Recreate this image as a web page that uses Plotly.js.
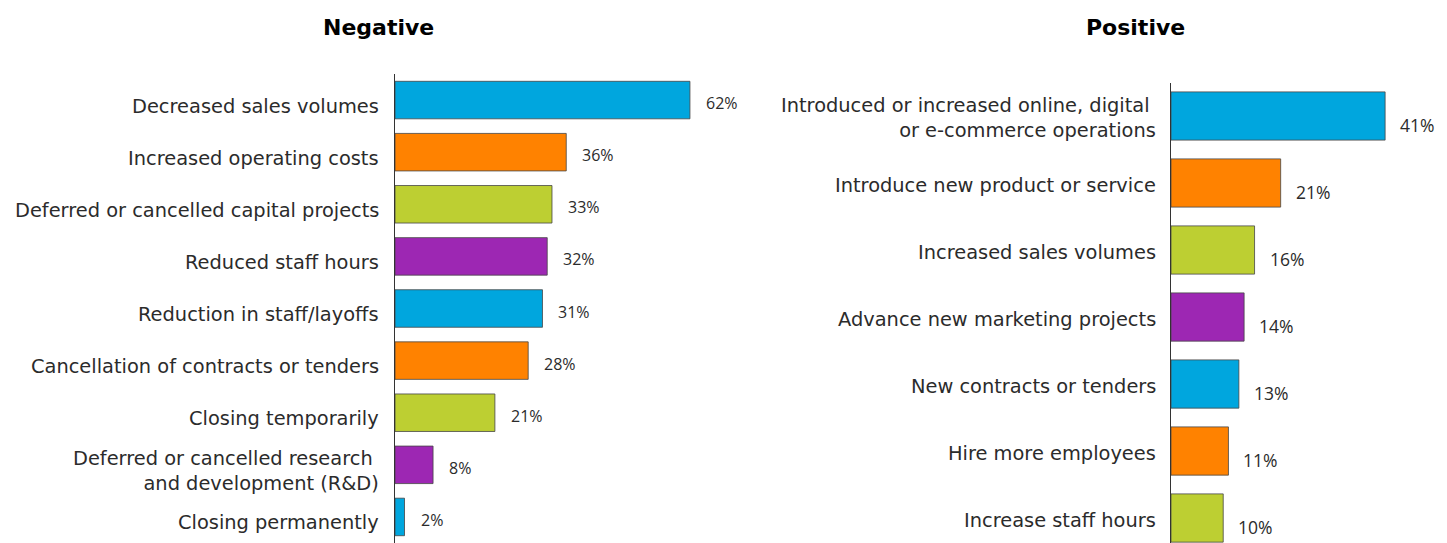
<!DOCTYPE html>
<html>
<head>
<meta charset="utf-8">
<script src="https://cdn.plot.ly/plotly-3.0.1.min.js"></script>
<style>html,body{margin:0;padding:0;background:#fff;}#chart{width:1447px;height:543px;}</style>
</head>
<body>
<div id="chart"></div>
<script>
// ---- data ----
const negCategories = [
  "Decreased sales volumes",
  "Increased operating costs",
  "Deferred or cancelled capital projects",
  "Reduced staff hours",
  "Reduction in staff/layoffs",
  "Cancellation of contracts or tenders",
  "Closing temporarily",
  "Deferred or cancelled research <br>and development (R&D)",
  "Closing permanently"
];
const negValues = [62, 36, 33, 32, 31, 28, 21, 8, 2];

const posCategories = [
  "Introduced or increased online, digital <br>or e-commerce operations",
  "Introduce new product or service",
  "Increased sales volumes",
  "Advance new marketing projects",
  "New contracts or tenders",
  "Hire more employees",
  "Increase staff hours"
];
const posValues = [41, 21, 16, 14, 13, 11, 10];

const palette = ["#00A6DE", "#FF8200", "#BDCF32", "#9D27B3"];
const negTitle = "Negative";
const posTitle = "Positive";

// ---- build ----
const colorsFor = n => Array.from({length: n}, (_, i) => palette[i % palette.length]);
const labelFont = {family: "DejaVu Sans, sans-serif", size: 19.4, color: "#2b2b2b"};
const valFontL = {family: "Open Sans, sans-serif", size: 16, color: "#2b2b2b"};
const valFontR = {family: "Open Sans, sans-serif", size: 17.5, color: "#2b2b2b"};
const titleFont = {family: "DejaVu Sans, sans-serif", size: 22, color: "#000", weight: "bold"};

const barLine = {color: "rgba(70,70,70,0.8)", width: 1};
const traces = [
  {
    type: "bar", orientation: "h",
    x: negValues, y: negCategories,
    xaxis: "x", yaxis: "y",
    marker: {color: colorsFor(negValues.length), line: barLine},
    hoverinfo: "x+y", showlegend: false
  },
  {
    type: "bar", orientation: "h",
    x: posValues, y: posCategories,
    xaxis: "x2", yaxis: "y2",
    marker: {color: colorsFor(posValues.length), line: barLine},
    hoverinfo: "x+y", showlegend: false
  }
];

const annotations = [];
// category labels
negCategories.forEach((c) => annotations.push({
  xref: "x", yref: "y", x: 0, y: c, text: c, align: "right",
  showarrow: false, xanchor: "right", yanchor: "middle", xshift: -14, yshift: -6, font: labelFont
}));
posCategories.forEach((c) => annotations.push({
  xref: "x2", yref: "y2", x: 0, y: c, text: c, align: "right",
  showarrow: false, xanchor: "right", yanchor: "middle", xshift: -13, yshift: -2, font: labelFont
}));
// value labels
negValues.forEach((v, i) => annotations.push({
  xref: "x", yref: "y", x: v, y: negCategories[i], text: v + "%",
  showarrow: false, xanchor: "left", xshift: 14, yshift: -3, font: valFontL
}));
posValues.forEach((v, i) => annotations.push({
  xref: "x2", yref: "y2", x: v, y: posCategories[i], text: v + "%",
  showarrow: false, xanchor: "left", xshift: 13, yshift: -9, font: valFontR
}));
// panel titles
annotations.push({
  xref: "paper", yref: "paper", x: 378/1447, y: 1 - 28/543, text: negTitle,
  showarrow: false, xanchor: "center", yanchor: "middle", font: titleFont
});
annotations.push({
  xref: "paper", yref: "paper", x: 1135/1447, y: 1 - 28/543, text: posTitle,
  showarrow: false, xanchor: "center", yanchor: "middle", font: titleFont
});

const W = 1447, H = 543;
const layout = {
  width: W, height: H,
  margin: {l: 0, r: 0, t: 0, b: 0},
  paper_bgcolor: "#fff", plot_bgcolor: "rgba(0,0,0,0)",
  bargap: 0.28,
  xaxis: {
    domain: [395/W, 728/W], range: [0, 70],
    showgrid: false, zeroline: false, showticklabels: false, showline: false, fixedrange: true
  },
  yaxis: {
    domain: [0, 1 - 74/H], range: [8.5, -0.5], anchor: "x", type: "category",
    showgrid: false, zeroline: false, showline: true, linecolor: "#333", linewidth: 1,
    ticks: "", showticklabels: false, fixedrange: true
  },
  xaxis2: {
    domain: [1171/W, 1406/W], range: [0, 45], anchor: "y2",
    showgrid: false, zeroline: false, showticklabels: false, showline: false, fixedrange: true
  },
  yaxis2: {
    domain: [0, 1 - 82.5/H], range: [6.373, -0.5], anchor: "x2", type: "category",
    showgrid: false, zeroline: false, showline: true, linecolor: "#333", linewidth: 1,
    ticks: "", showticklabels: false, fixedrange: true
  },
  annotations: annotations
};

Plotly.newPlot("chart", traces, layout, {displayModeBar: false, staticPlot: true});
</script>
</body>
</html>
